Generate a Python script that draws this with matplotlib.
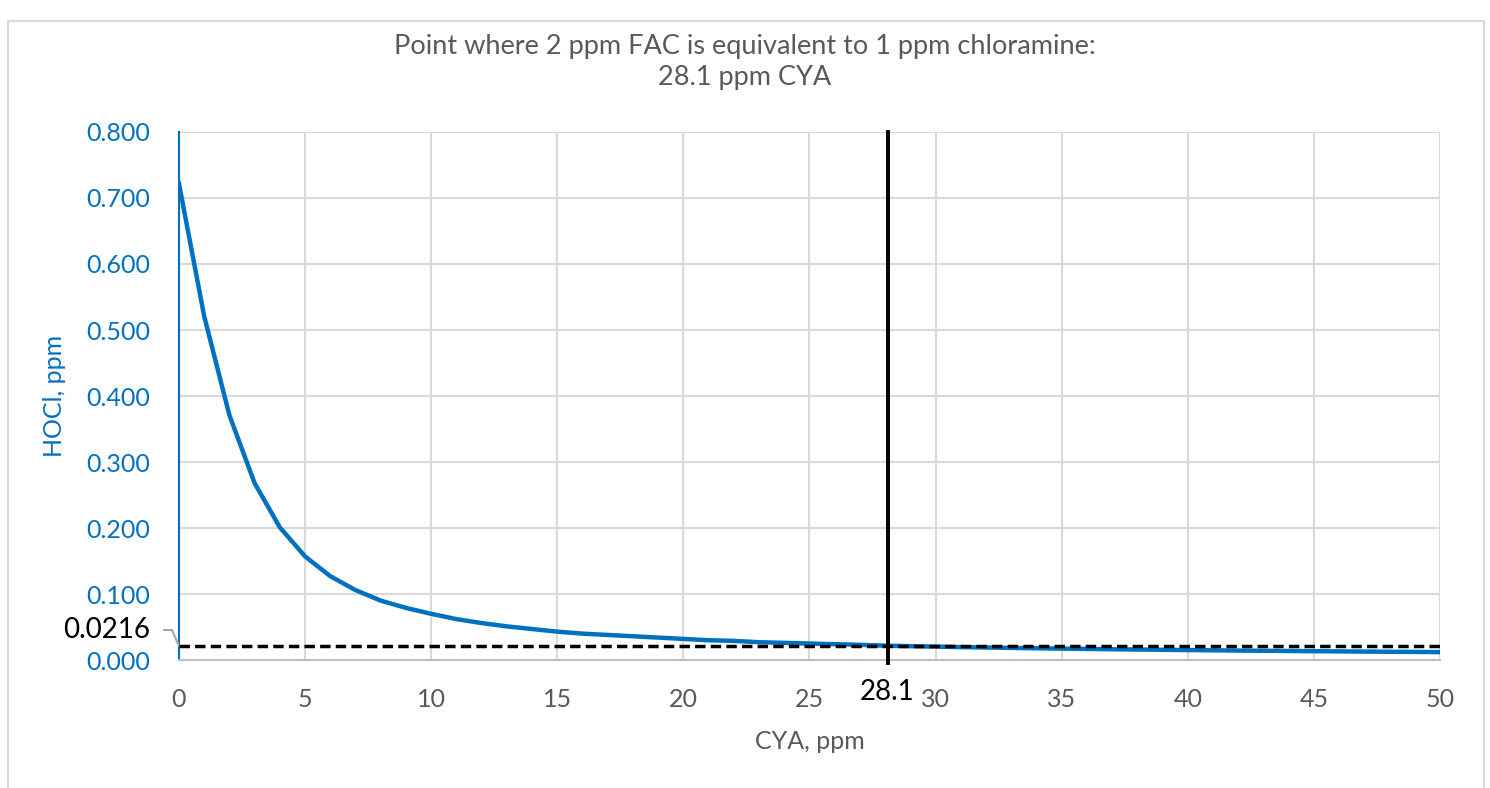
import matplotlib.pyplot as plt
from matplotlib.patches import Rectangle

plt.rcParams['font.family'] = ['Lato', 'DejaVu Sans']

# HOCl vs CYA at each whole ppm of CYA
cya = list(range(0, 51))
hocl = [0.722, 0.521, 0.371, 0.268, 0.201, 0.157, 0.127, 0.106, 0.090, 0.079,
        0.070, 0.062, 0.056, 0.051, 0.047, 0.043, 0.040, 0.038, 0.036, 0.034,
        0.032, 0.030, 0.029, 0.027, 0.026, 0.025, 0.024, 0.023, 0.0218, 0.0210,
        0.0203, 0.0196, 0.0190, 0.0184, 0.0178, 0.0173, 0.0168, 0.0163, 0.0159, 0.0155,
        0.0151, 0.0147, 0.0143, 0.0140, 0.0137, 0.0134, 0.0131, 0.0128, 0.0125, 0.0123,
        0.0120]

cya_eq = 28.1
hocl_eq = 0.0216

x_ticks = list(range(0, 51, 5))
y_ticks = [0.0, 0.1, 0.2, 0.3, 0.4, 0.5, 0.6, 0.7, 0.8]

blue = '#0070C0'
gray_text = '#595959'
grid_col = '#D9D9D9'

fig = plt.figure(figsize=(14.9, 7.88), dpi=100)
ax = fig.add_axes([0.1201, 0.1624, 0.8463, 0.6701])

# outer chart border
fig.patches.append(Rectangle((8 / 1490, -0.02), 1476 / 1490, 0.0137 + 0.98,
                             transform=fig.transFigure, fill=False,
                             edgecolor=grid_col, linewidth=1.5))

ax.plot(cya, hocl, color=blue, linewidth=3.2, zorder=3)
ax.hlines(hocl_eq, 0, 50, colors='black', linewidth=2.5,
          linestyles=(0, (3.0, 1.5)), zorder=4)
ax.axvline(cya_eq, ymin=-0.005, ymax=1, color='black', linewidth=2.8,
           clip_on=False, zorder=4)

ax.set_xlim(0, 50)
ax.set_ylim(0, 0.8)
ax.set_xticks(x_ticks)
ax.set_yticks(y_ticks)
ax.set_yticklabels([f'{v:.3f}' for v in y_ticks])
ax.grid(True, color=grid_col, linewidth=1.5)
ax.set_axisbelow(True)

for s in ['top', 'right']:
    ax.spines[s].set_visible(False)
ax.spines['left'].set_color(blue)
ax.spines['left'].set_linewidth(1.5)
ax.spines['bottom'].set_color('#BFBFBF')
ax.spines['bottom'].set_linewidth(1.5)

ax.tick_params(axis='both', length=0, labelsize=18)
ax.tick_params(axis='y', colors=blue, pad=21)
ax.tick_params(axis='x', colors=gray_text, pad=20)

ax.set_xlabel('CYA, ppm', fontsize=18, color=gray_text, labelpad=14)
ax.set_ylabel('HOCl, ppm', fontsize=18, color=blue, labelpad=14)

fig.suptitle('Point where 2 ppm FAC is equivalent to 1 ppm chloramine:\n28.1 ppm CYA',
             x=0.5, y=0.957, fontsize=19.5, color=gray_text, linespacing=1.33)

ax.annotate(f'{hocl_eq}', xy=(0, hocl_eq), xytext=(-1.15, 0.0455),
            textcoords='data', ha='right', va='center', fontsize=20,
            color='black', annotation_clip=False,
            arrowprops=dict(arrowstyle='-', color='#A6A6A6', linewidth=1.5,
                            shrinkA=8, shrinkB=0,
                            connectionstyle='angle,angleA=0,angleB=-66,rad=0'))
ax.text(cya_eq, -0.028, f'{cya_eq}', ha='center', va='top', fontsize=20,
        color='black')

fig.savefig('out.png', dpi=100)
